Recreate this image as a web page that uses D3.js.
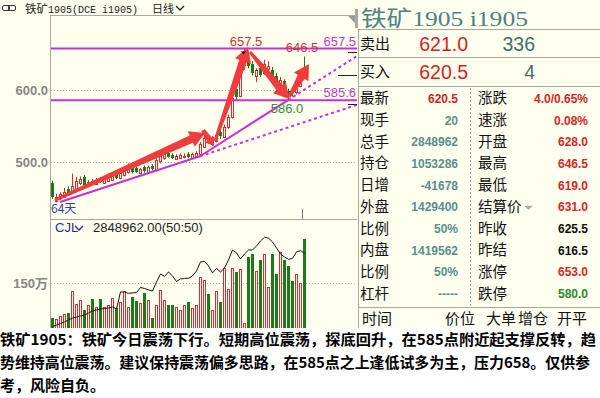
<!DOCTYPE html>
<html>
<head>
<meta charset="utf-8">
<script src="https://cdn.jsdelivr.net/npm/d3@7"></script>
<style>
  html, body { margin: 0; padding: 0; background: #ffffef; }
  svg { display: block; font-family: "Noto Sans CJK SC", sans-serif; }
</style>
</head>
<body>
<div id="chart"></div>
<script>
// 铁矿1905 daily candles + volume / open interest, with quote panel on the right.

// daily OHLC, 64 sessions
const opens = [471,446,450,452,462,458,463,470, 479,467,474,470,477,472,474,476,
  482,478,482,486,494,492,485,493, 486,494,489,501,505,513,510,505,
  506,507,511,506,509,511,522,536, 526,529,541,535,548,562,601,592,
  634,640,636,620,631,624,630,628, 620,608,612,599,598,596,606,628];
const highs = [474,456,458,464,466,484,479,480, 482,475,476,478,479,480,484,483,
  485,488,492,498,497,495,492,495, 495,497,506,510,514,516,512,511,
  512,512,514,513,515,528,538,539, 536,540,544,552,566,592,607,645,
  657.5,648,640,630,634,642,640,632, 624,618,615,602,603,608,628,646.5];
const lows = [449,444,447,450,455,456,461,468, 466,465,468,468,471,470,472,474,
  476,476,480,484,484,485,483,485, 484,488,487,498,503,506,504,503,
  504,505,505,504,506,509,520,526, 522,527,532,533,546,560,586,590,
  628,630,620,611,618,621,626,614, 610,604,595,586,591,594,604,619];
const closes = [451,452,455,459,457,466,474,476, 468,472,470,475,473,477,479,481,
  478,485,489,495,486,487,490,487, 493,490,503,508,511,508,506,509,
  510,509,507,511,513,525,534,529, 531,537,535,549,562,589,590,632,
  641,633,623,628,621,636,634,617, 612,614,597,592,595,605,625.5,620.5];
// volume, 万手
const volumes = [43,39,49,54,57,125,85,98, 67,83,100,76,100,78,83,103,
  72,93,125,78,106,96,90,120, 98,44,83,129,98,83,83,78,
  67,83,93,74,83,169,159,116, 67,125,93,195,132,195,185,192,
  27,229,239,187,220,239,137,239, 178,244,220,202,157,178,149,284.9];
// open interest, 万手
const openInterest = [44.4,45.8,47.1,48.3,50.0,51.6,52.4,53.3, 54.1,55.8,57.4,58.3,59.1,59.5,59.9,60.7,
  59.1,73.2,73.2,72.0,72.4,72.8,76.9,76.1, 74.9,74.0,81.5,88.1,86.1,89.8,86.5,81.9,
  84.0,84.4,84.6,86.5,90.6,98.1,98.5,94.8, 89.0,92.7,89.8,93.1,99.8,108.0,105.6,100.6,
  104.7,108.0,108.0,111.4,115.5,118.6,117.8,114.7, 109.7,104.7,102.2,100.3,101.0,106.4,107.5,105.33];
const lastVolume = 2848962;

const priceTicks = [500, 600];
const volTicks = [150];
const hLines = [657.5, 585.6];           // horizontal support / resistance
const trendA = [[2, 444.4], [37, 508]];  // lower trend line (solid, then dotted)
const trendB = [[37, 508], [59, 586]];   // steeper trend line
const arrows = [
  [[0.75, 447.2], [38.25, 540.3]],
  [[37.75, 544.4], [40.5, 522.2]],
  [[40.75, 529.2], [49, 659.7]],
  [[49.5, 652.8], [59.25, 587.5]],
  [[59.25, 590.3], [64.25, 636.1]],
];
const limitUp = 653.0, limitDown = 580.0, lastPrice = 620.5;
const dayBreak = 62.5;

const quoteLeftLabels = ["最新", "现手", "总手", "持仓", "日增", "外盘", "比例", "内盘", "比例", "杠杆"];
const quoteLeftValues = ["620.5", "20", "2848962", "1053286", "-41678", "1429400", "50%", "1419562", "50%", "-----"];
const quoteRightLabels = ["涨跌", "速涨", "开盘", "最高", "最低", "结算价", "昨收", "昨结", "涨停", "跌停"];
const quoteRightValues = ["4.0/0.65%", "0.08%", "628.0", "646.5", "619.0", "631.0", "625.5", "616.5", "653.0", "580.0"];
const tradeHeaders = ["时间", "价位", "大单", "增仓", "开平"];
const commentLines = [
  "铁矿1905：铁矿今日震荡下行。短期高位震荡，探底回升，在585点附近起支撑反转，趋",
  "势维持高位震荡。建议保持震荡偏多思路，在585点之上逢低试多为主，压力658。仅供参",
  "考，风险自负。",
];

const BG = "#ffffef", RED = "#e42a2a", GREEN = "#1b7b1b", MAG = "#cc2fcc";
const ARROW = "#f03c3c", FRAME = "#a8a8a0";

const svg = d3.select("#chart").append("svg").attr("width", 600).attr("height", 398);
svg.append("rect").attr("width", 600).attr("height", 398).attr("fill", BG);

const x = d3.scaleLinear().domain([0, 63]).range([52, 304]);
const y = d3.scaleLinear().domain([500, 600]).range([162, 90]);
const yVol = d3.scaleLinear().domain([0, 150]).range([332, 283]);
const yOi = d3.scaleLinear().domain([40, 110]).range([332, 247.6]);

const bars = opens.map((o, i) => ({ i, o, h: highs[i], l: lows[i], c: closes[i], v: volumes[i], oi: openInterest[i] }));
const isUp = (d) => d.c >= d.o;

const defs = svg.append("defs");
defs.append("clipPath").attr("id", "clipP").append("rect").attr("x", 51).attr("y", 16.5).attr("width", 306).attr("height", 202);
defs.append("clipPath").attr("id", "clipV").append("rect").attr("x", 51).attr("y", 219.5).attr("width", 306).attr("height", 110);

// ---- title bar
const icon = svg.append("g").attr("fill", "none").attr("stroke", "#333");
icon.append("rect").attr("x", 2.5).attr("y", 5.5).attr("width", 7).attr("height", 5).attr("rx", 1.5);
icon.append("rect").attr("x", 8.5).attr("y", 5.5).attr("width", 7).attr("height", 5).attr("rx", 1.5);
svg.append("text").attr("x", 25).attr("y", 13).attr("font-size", 11.5).attr("fill", "#222").text("铁矿");
svg.append("text").attr("x", 48).attr("y", 13).attr("font-size", 10.5)
  .attr("font-family", "'Liberation Mono', monospace").attr("fill", "#222")
  .attr("textLength", 90).attr("lengthAdjust", "spacingAndGlyphs").text("1905(DCE i1905)");
svg.append("text").attr("x", 152).attr("y", 13).attr("font-size", 11).attr("fill", "#222").text("日线");
svg.append("path").attr("d", "M176,6 L180,10 L184,6").attr("fill", "none").attr("stroke", "#222").attr("stroke-width", 1.3);

// ---- frames
const frame = svg.append("g").attr("stroke", FRAME).attr("fill", "none");
frame.append("line").attr("x1", 50).attr("x2", 357).attr("y1", 15.5).attr("y2", 15.5);
frame.append("line").attr("x1", 50.5).attr("x2", 50.5).attr("y1", 15.5).attr("y2", 330);
frame.append("line").attr("x1", 50).attr("x2", 357).attr("y1", 219.5).attr("y2", 219.5);
svg.append("path").attr("d", "M348,16 L357,16 L357,25 Z").attr("fill", "#9a9a9a");

// ---- grid + axis labels
const grid = svg.append("g").attr("stroke", "#b0b0a8").attr("stroke-dasharray", "1,2");
grid.selectAll("line.p").data(priceTicks).join("line").attr("class", "p")
  .attr("x1", 51).attr("x2", 357).attr("y1", (d) => Math.round(y(d)) + 0.5).attr("y2", (d) => Math.round(y(d)) + 0.5);
grid.selectAll("line.v").data(volTicks).join("line").attr("class", "v")
  .attr("x1", 51).attr("x2", 357).attr("y1", (d) => Math.round(yVol(d)) + 0.5).attr("y2", (d) => Math.round(yVol(d)) + 0.5);

const axisP = svg.append("g").attr("transform", "translate(48,0)")
  .call(d3.axisLeft(y).tickValues(priceTicks).tickFormat(d3.format(".1f")).tickSize(0).tickPadding(0));
const axisV = svg.append("g").attr("transform", "translate(48,0)")
  .call(d3.axisLeft(yVol).tickValues(volTicks).tickFormat((d) => d + "万").tickSize(0).tickPadding(0));
[axisP, axisV].forEach((a) => {
  a.select(".domain").remove();
  a.selectAll("text").attr("font-size", 13).attr("fill", "#858585")
    .attr("font-family", "'Liberation Sans', 'Noto Sans CJK SC'").attr("font-weight", "bold");
});

// ---- candles
const pg = svg.append("g").attr("clip-path", "url(#clipP)");
const cg = pg.append("g");
cg.selectAll("line").data(bars).join("line")
  .attr("x1", (d) => x(d.i) + 0.5).attr("x2", (d) => x(d.i) + 0.5)
  .attr("y1", (d) => y(d.h)).attr("y2", (d) => y(d.l))
  .attr("stroke", (d) => (isUp(d) ? RED : GREEN));
cg.selectAll("rect").data(bars).join("rect")
  .attr("x", (d) => (isUp(d) ? x(d.i) - 0.5 : x(d.i) - 1))
  .attr("y", (d) => Math.round(y(Math.max(d.o, d.c))) + (isUp(d) ? 0.5 : 0))
  .attr("width", (d) => (isUp(d) ? 2 : 3))
  .attr("height", (d) => Math.max(1, Math.round(Math.abs(y(d.o) - y(d.c)))))
  .attr("fill", (d) => (isUp(d) ? BG : GREEN))
  .attr("stroke", (d) => (isUp(d) ? RED : "none"));

// ---- drawn lines
const lg = pg.append("g").attr("stroke", MAG).attr("stroke-width", 2).attr("fill", "none");
lg.selectAll("line.h").data(hLines).join("line").attr("class", "h")
  .attr("x1", 51).attr("x2", 357).attr("y1", (d) => y(d)).attr("y2", (d) => y(d));
const pt = (p) => [x(p[0]), y(p[1])];
const extend = (seg, toI) => {
  const [a, b] = seg;
  const k = (b[1] - a[1]) / (b[0] - a[0]);
  return [b, [toI, b[1] + k * (toI - b[0])]];
};
[trendA, trendB].forEach((seg) => {
  lg.append("path").attr("d", d3.line()(seg.map(pt)));
  lg.append("path").attr("d", d3.line()(extend(seg, 80).map(pt))).attr("stroke-dasharray", "3,3");
});

// ---- red arrows
function arrowPath(p0, p1, s) {
  const dx = p1[0] - p0[0], dy = p1[1] - p0[1];
  const len = Math.hypot(dx, dy);
  const ux = dx / len, uy = dy / len, nx = -uy, ny = ux;
  const hl = Math.min(s.head, len * 0.5);
  const bx = p1[0] - ux * hl, by = p1[1] - uy * hl;
  const off = (px, py, w) => [px + nx * w, py + ny * w];
  const ps = [off(p0[0], p0[1], s.tail), off(bx, by, s.neck), off(bx, by, s.wing), p1,
    off(bx, by, -s.wing), off(bx, by, -s.neck), off(p0[0], p0[1], -s.tail)];
  return "M" + ps.map((p) => p.join(",")).join("L") + "Z";
}
const ag = svg.append("g").attr("fill", ARROW);
arrows.forEach(([a, b]) => {
  const p0 = pt(a), p1 = pt(b);
  const len = Math.hypot(p1[0] - p0[0], p1[1] - p0[1]);
  const s = len < 30 ? { tail: 2, neck: 3, head: 8, wing: 5.5 } : { tail: 1.5, neck: 4, head: 15, wing: 8.5 };
  ag.append("path").attr("d", arrowPath(p0, p1, s));
});

// ---- price annotations
const hiIdx = d3.maxIndex(highs);
const loIdx = d3.minIndex(lows.slice(50)) + 50;
const lastIdx = highs.length - 1;
const ann = svg.append("g").attr("font-size", 13).attr("font-family", "'Liberation Sans', sans-serif");
ann.append("text").attr("x", x(hiIdx) + 2).attr("y", y(highs[hiIdx]) - 3).attr("text-anchor", "middle")
  .attr("fill", "#c83636").text(highs[hiIdx].toFixed(1));
ann.append("path").attr("d", `M${x(hiIdx) - 3},${y(highs[hiIdx]) + 3} h5 l-2.5,3 Z`).attr("fill", "#111");
ann.append("text").attr("x", x(lastIdx) - 2).attr("y", y(highs[lastIdx]) - 5).attr("text-anchor", "middle")
  .attr("fill", "#c83636").text(highs[lastIdx].toFixed(1));
ann.append("text").attr("x", x(loIdx) - 1).attr("y", y(lows[loIdx]) + 13).attr("text-anchor", "middle")
  .attr("fill", "#3a8a3a").text(lows[loIdx].toFixed(1));
hLines.forEach((v) => {
  ann.append("text").attr("x", 356).attr("y", y(v) - 3).attr("text-anchor", "end").attr("fill", "#c23ec2").text(v.toFixed(1));
});
const tk = svg.append("g").attr("stroke", "#222");
tk.append("line").attr("x1", 348).attr("x2", 357).attr("y1", Math.round(y(limitUp)) + 0.5).attr("y2", Math.round(y(limitUp)) + 0.5);
tk.append("line").attr("x1", 348).attr("x2", 357).attr("y1", Math.round(y(limitDown)) + 0.5).attr("y2", Math.round(y(limitDown)) + 0.5);
tk.append("line").attr("x1", 338).attr("x2", 357).attr("y1", Math.round(y(lastPrice)) + 0.5).attr("y2", Math.round(y(lastPrice)) + 0.5);
svg.append("line").attr("x1", x(dayBreak) + 0.5).attr("x2", x(dayBreak) + 0.5).attr("y1", 209).attr("y2", 219)
  .attr("stroke", "#777");
svg.append("text").attr("x", 51).attr("y", 213).attr("font-size", 12).attr("fill", "#34449a").text(bars.length + "天");

// ---- volume + open interest
const vg = svg.append("g").attr("clip-path", "url(#clipV)");
vg.selectAll("rect").data(bars).join("rect")
  .attr("x", (d) => (isUp(d) ? x(d.i) - 0.5 : x(d.i) - 1))
  .attr("y", (d) => Math.round(yVol(d.v)) + (isUp(d) ? 0.5 : 0))
  .attr("width", (d) => (isUp(d) ? 2 : 3))
  .attr("height", (d) => 332 - Math.round(yVol(d.v)))
  .attr("fill", (d) => (isUp(d) ? BG : GREEN))
  .attr("stroke", (d) => (isUp(d) ? RED : "none"));
vg.append("path").datum(bars)
  .attr("d", d3.line().x((d) => x(d.i) + 0.5).y((d) => yOi(d.oi)))
  .attr("fill", "none").attr("stroke", "#111").attr("stroke-width", 1);
svg.append("text").attr("x", 55).attr("y", 232).attr("font-size", 13).attr("fill", "#2c2c8c")
  .attr("font-family", "'Liberation Sans', sans-serif").text("CJL");
svg.append("path").attr("d", "M75,226 L79,230 L83,226").attr("fill", "none").attr("stroke", "#2c2c8c").attr("stroke-width", 1.3);
svg.append("text").attr("x", 93).attr("y", 232).attr("font-size", 13).attr("fill", "#222")
  .attr("font-family", "'Liberation Sans', sans-serif")
  .text(d3.format(".2f")(lastVolume) + "(50:50)");

// ---- quote panel
const qp = svg.append("g");
qp.append("rect").attr("x", 355).attr("y", 9).attr("width", 3).attr("height", 19).attr("fill", "#a8a8a8");
qp.append("text").attr("x", 361).attr("y", 26).attr("font-size", 22).attr("fill", "#4d8282")
  .attr("font-family", "'Liberation Serif', 'Noto Sans CJK SC'").attr("textLength", 167).attr("lengthAdjust", "spacingAndGlyphs")
  .text("铁矿1905 i1905");
const qf = qp.append("g").attr("stroke", FRAME).attr("fill", "none");
[29.5, 57.5, 86.5, 307.5].forEach((yy) => qf.append("line").attr("x1", 358).attr("x2", 600).attr("y1", yy).attr("y2", yy));
qf.append("line").attr("x1", 358.5).attr("x2", 358.5).attr("y1", 29.5).attr("y2", 330);
qf.append("line").attr("x1", 470.5).attr("x2", 470.5).attr("y1", 88).attr("y2", 306).attr("stroke-dasharray", "2,2");

const bigRows = [["卖出", "621.0", "336", 43.5], ["买入", "620.5", "4", 71.7]];
bigRows.forEach(([lab, px, qty, cy]) => {
  qp.append("text").attr("x", 360).attr("y", cy + 5.5).attr("font-size", 15).attr("fill", "#111").text(lab);
  qp.append("text").attr("x", 468).attr("y", cy + 7).attr("text-anchor", "end").attr("font-size", 19.5)
    .attr("font-family", "'Liberation Sans', sans-serif").attr("fill", "#d41f1f").text(px);
  qp.append("text").attr("x", 535).attr("y", cy + 7).attr("text-anchor", "end").attr("font-size", 19.5)
    .attr("font-family", "'Liberation Sans', sans-serif").attr("fill", "#3f6e6e").text(qty);
});

const rowY = (k) => 98.3 + 21.7 * k;
const rightColor = (k) => (k === 6 || k === 7 ? "#111" : k === 9 ? "#2b8a2b" : "#d42626");
quoteLeftLabels.forEach((lab, k) => {
  qp.append("text").attr("x", 360).attr("y", rowY(k) + 5).attr("font-size", 14.5).attr("fill", "#111").text(lab);
  qp.append("text").attr("x", 458).attr("y", rowY(k) + 4.5).attr("text-anchor", "end").attr("font-size", 12)
    .attr("font-weight", "bold").attr("font-family", "'Liberation Sans', sans-serif")
    .attr("fill", k === 0 ? "#d42626" : "#5a8e8e").text(quoteLeftValues[k]);
});
quoteRightLabels.forEach((lab, k) => {
  qp.append("text").attr("x", 478).attr("y", rowY(k) + 5).attr("font-size", 14.5).attr("fill", "#111").text(lab);
  qp.append("text").attr("x", 588).attr("y", rowY(k) + 4.5).attr("text-anchor", "end").attr("font-size", 12)
    .attr("font-weight", "bold").attr("font-family", "'Liberation Sans', sans-serif")
    .attr("fill", rightColor(k)).text(quoteRightValues[k]);
});
qp.append("path").attr("d", `M524,${rowY(5) - 1} h9 l-4.5,4 Z`).attr("fill", "#aaa");
const headerX = [362, 445, 486, 518, 557];
tradeHeaders.forEach((h, k) => {
  qp.append("text").attr("x", headerX[k]).attr("y", 324).attr("font-size", 15).attr("fill", "#111").text(h);
});

// ---- comment block
svg.append("rect").attr("x", 0).attr("y", 328).attr("width", 600).attr("height", 70).attr("fill", "#fff");
const lineW = [596, 590, null];
commentLines.forEach((t, k) => {
  const tx = svg.append("text").attr("x", 0).attr("y", 344.5 + 23 * k).attr("font-size", 15)
    .attr("font-weight", "bold").attr("fill", "#000").text(t);
  if (lineW[k]) tx.attr("textLength", lineW[k]).attr("lengthAdjust", "spacingAndGlyphs");
});
</script>
</body>
</html>
